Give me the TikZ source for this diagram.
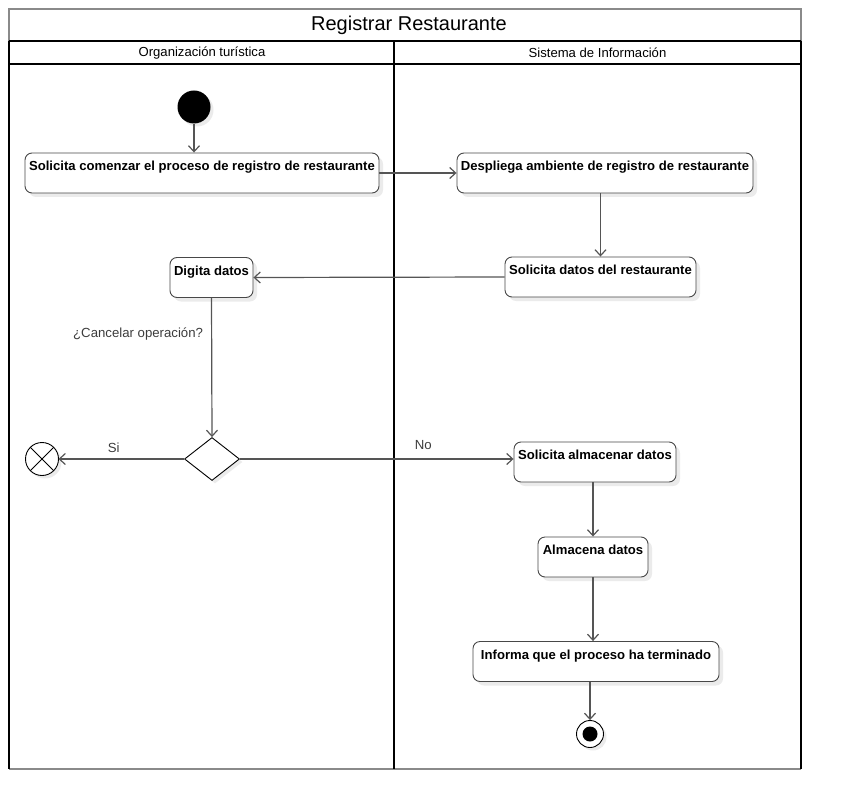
\documentclass[tikz,border=0pt]{standalone}
\usepackage{fontspec}
\setmainfont{Liberation Sans}
\usetikzlibrary{arrows.meta,positioning,shapes.geometric,shadows,calc}
\definecolor{RgInk}{HTML}{1A1A1A}
\definecolor{RgEdge}{HTML}{555555}
\definecolor{RgFrame}{HTML}{8A8A8A}
\definecolor{RgShade}{HTML}{EBEBEB}

\begin{document}
\begin{tikzpicture}[x=1pt,y=-1pt]
    \tikzset{
      act/.style={draw=RgInk!80, rounded corners=7pt, line width=.9pt, fill=white,
        font=\fontsize{13.1}{15}\selectfont\bfseries, inner xsep=3pt, inner ysep=4pt,
        text height=13.5pt, text depth=18.5pt,
        drop shadow={shadow xshift=4pt, shadow yshift=-4pt, fill=RgShade, opacity=1}},
      start/.style={circle, fill=black, minimum size=33pt, inner sep=0pt,
        drop shadow={shadow xshift=3pt, shadow yshift=-3pt, fill=RgShade, opacity=1}},
      stopper/.style={circle, draw=black, fill=white, line width=.9pt, minimum size=27pt,
        inner sep=0pt, drop shadow={shadow xshift=3pt, shadow yshift=-3pt, fill=RgShade, opacity=1}},
      cancel/.style={circle, draw=black, fill=white, line width=.9pt, minimum size=33pt,
        inner sep=0pt, outer sep=0pt,
        drop shadow={shadow xshift=3pt, shadow yshift=-3pt, fill=RgShade, opacity=1}},
      choice/.style={diamond, draw=black, fill=white, line width=.9pt, inner sep=0pt,
        minimum width=55pt, minimum height=43pt,
        drop shadow={shadow xshift=3pt, shadow yshift=-3pt, fill=RgShade, opacity=1}},
      edge/.style={-{Straight Barb[length=6pt,width=11pt]}, draw=RgEdge, line width=1.2pt},
      guard/.style={font=\fontsize{13.2}{15}\selectfont, text=RgInk!85, inner sep=2pt},
      frame/.style={draw=RgFrame, line width=1.6pt},
      lane/.style={draw=black, line width=1.6pt}
    }
    % swimlanes
    \draw[frame] (9,41) -- (9,9) -- (801,9) -- (801,41);
    \draw[frame] (9,769) -- (801,769);
    \draw[lane] (9,41) -- (801,41) (9,64) -- (801,64);
    \draw[lane] (9,41) -- (9,769) (394,41) -- (394,769) (801,41) -- (801,769);
    \node[font=\fontsize{20}{22}\selectfont] (title) at (409,25) {Registrar Restaurante};
    \node[font=\fontsize{13.1}{15}\selectfont] (laneOrg) at (202,53) {Organización turística};
    \node[font=\fontsize{13.1}{15}\selectfont] (laneSys) at (597.5,53) {Sistema de Información};
    % activities
    \node[start] (ini) at (194,107) {};
    \node[act, minimum width=354pt] (pide) at (202,173)
      {Solicita comenzar el proceso de registro de restaurante};
    \node[act, minimum width=296pt] (despliega) at (605,173)
      {Despliega ambiente de registro de restaurante};
    \node[act, minimum width=191pt] (solDatos) at (600.5,277)
      {Solicita datos del restaurante};
    \node[act, minimum width=83pt] (digita) at (211.5,277.5) {Digita datos};
    \node[choice] (dec) at (212,459) {};
    \node[cancel] (fin1) at (42,459) {};
    \draw[line width=.9pt] (fin1.north west) -- (fin1.south east)
      (fin1.north east) -- (fin1.south west);
    \node[act, minimum width=162pt] (solAlm) at (595,462) {Solicita almacenar datos};
    \node[act, minimum width=110pt] (almacena) at (593,557) {Almacena datos};
    \node[act, minimum width=246pt] (informa) at (596,661.5)
      {Informa que el proceso ha terminado};
    \node[stopper] (fin2) at (590,734) {};
    \fill (fin2.center) circle (7.5pt);
    % flows
    \draw[edge] (ini) -- (ini |- pide.north);
    \draw[edge] (pide.east) -- (despliega.west);
    \draw[edge] (solDatos.north |- despliega.south) -- (solDatos.north);
    \draw[edge] (solDatos.west) -- (digita.east);
    \draw[edge] (digita.south) -- node[guard, pos=.26, left=6pt] {¿Cancelar operación?} (dec.north);
    \draw[edge] (dec.west) -- node[guard, pos=.56, above=4pt] {Si} (fin1.east);
    \draw[edge] (dec.east) -- node[guard, pos=.67, above=7pt] {No} (dec.east -| solAlm.west);
    \draw[edge] (almacena.north |- solAlm.south) -- (almacena.north);
    \draw[edge] (almacena.south) -- (almacena.south |- informa.north);
    \draw[edge] (fin2 |- informa.south) -- (fin2);
    \useasboundingbox (0,0) rectangle (842,810);
\end{tikzpicture}
\end{document}
